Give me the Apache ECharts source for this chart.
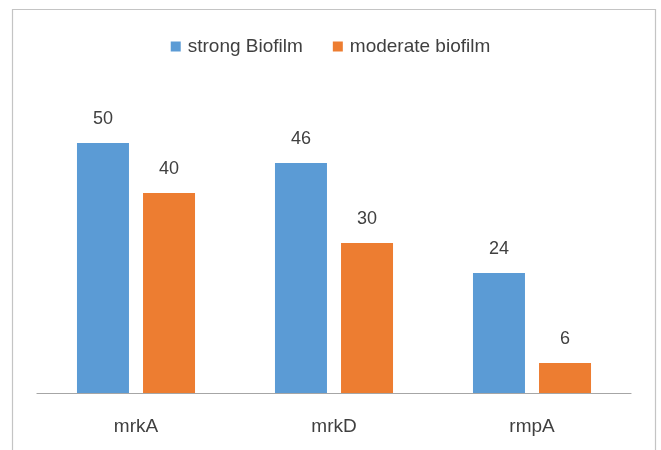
<!DOCTYPE html>
<html><head><meta charset="utf-8">
<script src="https://cdn.jsdelivr.net/npm/echarts@6/dist/echarts.min.js"></script>
<style>html,body{margin:0;padding:0;background:#fff}#c{width:661px;height:450px}</style>
</head><body><div id="c"></div>
<script>
const categories = ['mrkA', 'mrkD', 'rmpA'];
const strongBiofilm = [50, 46, 24];
const moderateBiofilm = [40, 30, 6];
const seriesNames = ['strong Biofilm', 'moderate biofilm'];

const chart = echarts.init(document.getElementById('c'), null, {renderer: 'canvas'});
const font = 'Liberation Sans';
chart.setOption({
  backgroundColor: '#fff',
  animation: false,
  graphic: [{
    type: 'rect', silent: true,
    shape: {x: 12.5, y: 9.5, width: 643, height: 460},
    style: {fill: 'none', stroke: '#c4c4c4', lineWidth: 1.2}
  }],
  legend: {
    top: 32, left: 'center',
    itemWidth: 10, itemHeight: 10, itemGap: 30,
    icon: 'rect',
    textStyle: {fontFamily: font, fontSize: 19, color: '#404040', padding: [0, 0, 0, 2]},
    data: seriesNames
  },
  grid: {left: 37, right: 30, top: 93, bottom: 57},
  xAxis: {
    type: 'category', data: categories,
    axisLine: {lineStyle: {color: '#a6a6a6', width: 1.2}},
    axisTick: {show: false},
    axisLabel: {fontFamily: font, fontSize: 19, color: '#404040', margin: 24}
  },
  yAxis: {type: 'value', min: 0, max: 60, show: false, splitLine: {show: false}},
  series: [
    {name: seriesNames[0], type: 'bar', data: strongBiofilm, barWidth: 52, barGap: '27%',
     itemStyle: {color: '#5B9BD5'},
     label: {show: true, position: 'top', distance: 15, fontFamily: font, fontSize: 18, color: '#404040'}},
    {name: seriesNames[1], type: 'bar', data: moderateBiofilm, barWidth: 52,
     itemStyle: {color: '#ED7D31'},
     label: {show: true, position: 'top', distance: 15, fontFamily: font, fontSize: 18, color: '#404040'}}
  ]
});
</script></body></html>
